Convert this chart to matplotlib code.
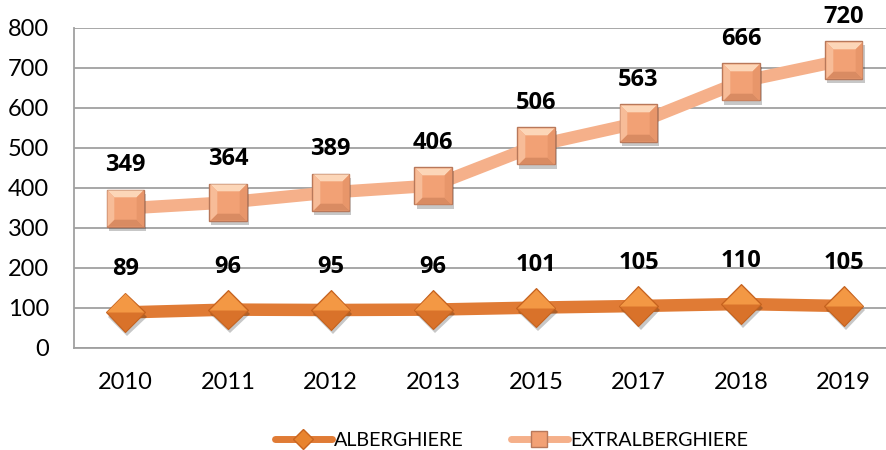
import matplotlib.pyplot as plt
from matplotlib.path import Path
from matplotlib.lines import Line2D
import matplotlib.patheffects as pe

plt.rcParams['font.family'] = ['Lato', 'DejaVu Sans']

anni = ["2010", "2011", "2012", "2013", "2015", "2017", "2018", "2019"]
alberghiere = [89, 96, 95, 96, 101, 105, 110, 105]
extralberghiere = [349, 364, 389, 406, 506, 563, 666, 720]

x = list(range(len(anni)))

# forme per dare l'effetto "rilievo" ai marker
meta_sup = Path([(-1, 0), (0, 1), (1, 0), (-1, 0)])
bordo_sup = Path([(-1, 1), (1, 1), (0.62, 0.62), (-0.62, 0.62), (-1, 1)])
bordo_inf = Path([(-1, -1), (1, -1), (0.62, -0.62), (-0.62, -0.62), (-1, -1)])
bordo_sx = Path([(-1, -1), (-1, 1), (-0.62, 0.62), (-0.62, -0.62), (-1, -1)])
bordo_dx = Path([(1, -1), (1, 1), (0.62, 0.62), (0.62, -0.62), (1, -1)])

fig = plt.figure(figsize=(8.86, 4.5), dpi=100)
ax = fig.add_axes([74 / 886, 1 - 348 / 450, 821 / 886, 320 / 450])

c_alb = "#E07B35"
c_ext = "#F5B08A"

ax.plot(x, alberghiere, color=c_alb, lw=9, solid_capstyle="butt", zorder=3)
ax.plot(x, extralberghiere, color=c_ext, lw=9, solid_capstyle="butt", zorder=3)

ombra = [pe.SimplePatchShadow(offset=(1.5, -3), shadow_rgbFace="k", alpha=0.22),
         pe.Normal()]

# diamanti ALBERGHIERE
ax.plot(x, alberghiere, ls="none", marker="D", ms=20, mfc="#D9722A",
        mec="#C4621E", mew=0.8, zorder=4, path_effects=ombra)
ax.plot(x, alberghiere, ls="none", marker=meta_sup, ms=27, mfc="#F39844",
        mew=0, zorder=5)

# quadrati EXTRALBERGHIERE
ax.plot(x, extralberghiere, ls="none", marker="s", ms=27, mfc="#F2A175",
        mec="#B8785A", mew=1, zorder=4, path_effects=ombra)
ax.plot(x, extralberghiere, ls="none", marker=bordo_sup, ms=26, mfc="#FCD6B8",
        mew=0, zorder=5)
ax.plot(x, extralberghiere, ls="none", marker=bordo_inf, ms=26, mfc="#D98B62",
        mew=0, zorder=5)
ax.plot(x, extralberghiere, ls="none", marker=bordo_sx, ms=26, mfc="#F7BC98",
        mew=0, zorder=5)
ax.plot(x, extralberghiere, ls="none", marker=bordo_dx, ms=26, mfc="#E8966A",
        mew=0, zorder=5)

# etichette dei valori
for serie in (alberghiere, extralberghiere):
    for xi, v in zip(x, serie):
        ax.annotate(str(v), (xi, v), xytext=(0, 31), textcoords="offset points",
                    ha="center", va="center", fontsize=17, fontweight="bold",
                    family=["Open Sans", "DejaVu Sans"])

ax.set_xlim(-0.5, len(anni) - 0.5)
ax.set_ylim(0, 800)
ax.set_yticks(range(0, 801, 100))
ax.set_xticks(x)
ax.set_xticklabels(anni)
ax.tick_params(length=0, labelsize=17)
ax.tick_params(axis="y", pad=18)
ax.tick_params(axis="x", pad=17)
ax.grid(axis="y", color="#A0A0A0", lw=1.3)
ax.set_axisbelow(True)
for s in ["top", "right"]:
    ax.spines[s].set_visible(False)
ax.spines["left"].set_color("#A0A0A0")
ax.spines["bottom"].set_color("#A0A0A0")
ax.spines["left"].set_linewidth(1.3)
ax.spines["bottom"].set_linewidth(1.3)

handles = [
    Line2D([], [], color=c_alb, lw=5, marker="D", ms=10, mfc="#E8842F",
           mec="#C9651F", solid_capstyle="round"),
    Line2D([], [], color=c_ext, lw=5, marker="s", ms=12, mfc="#F2A175",
           mec="#B8785A", solid_capstyle="round"),
]
fig.legend(handles, ["ALBERGHIERE", "EXTRALBERGHIERE"], loc="lower center",
           bbox_to_anchor=(0.577, -0.037), ncol=2, frameon=False, fontsize=14.2,
           handlelength=2.9, handletextpad=0.1, columnspacing=2.4)

fig.savefig("out.png", dpi=100)
